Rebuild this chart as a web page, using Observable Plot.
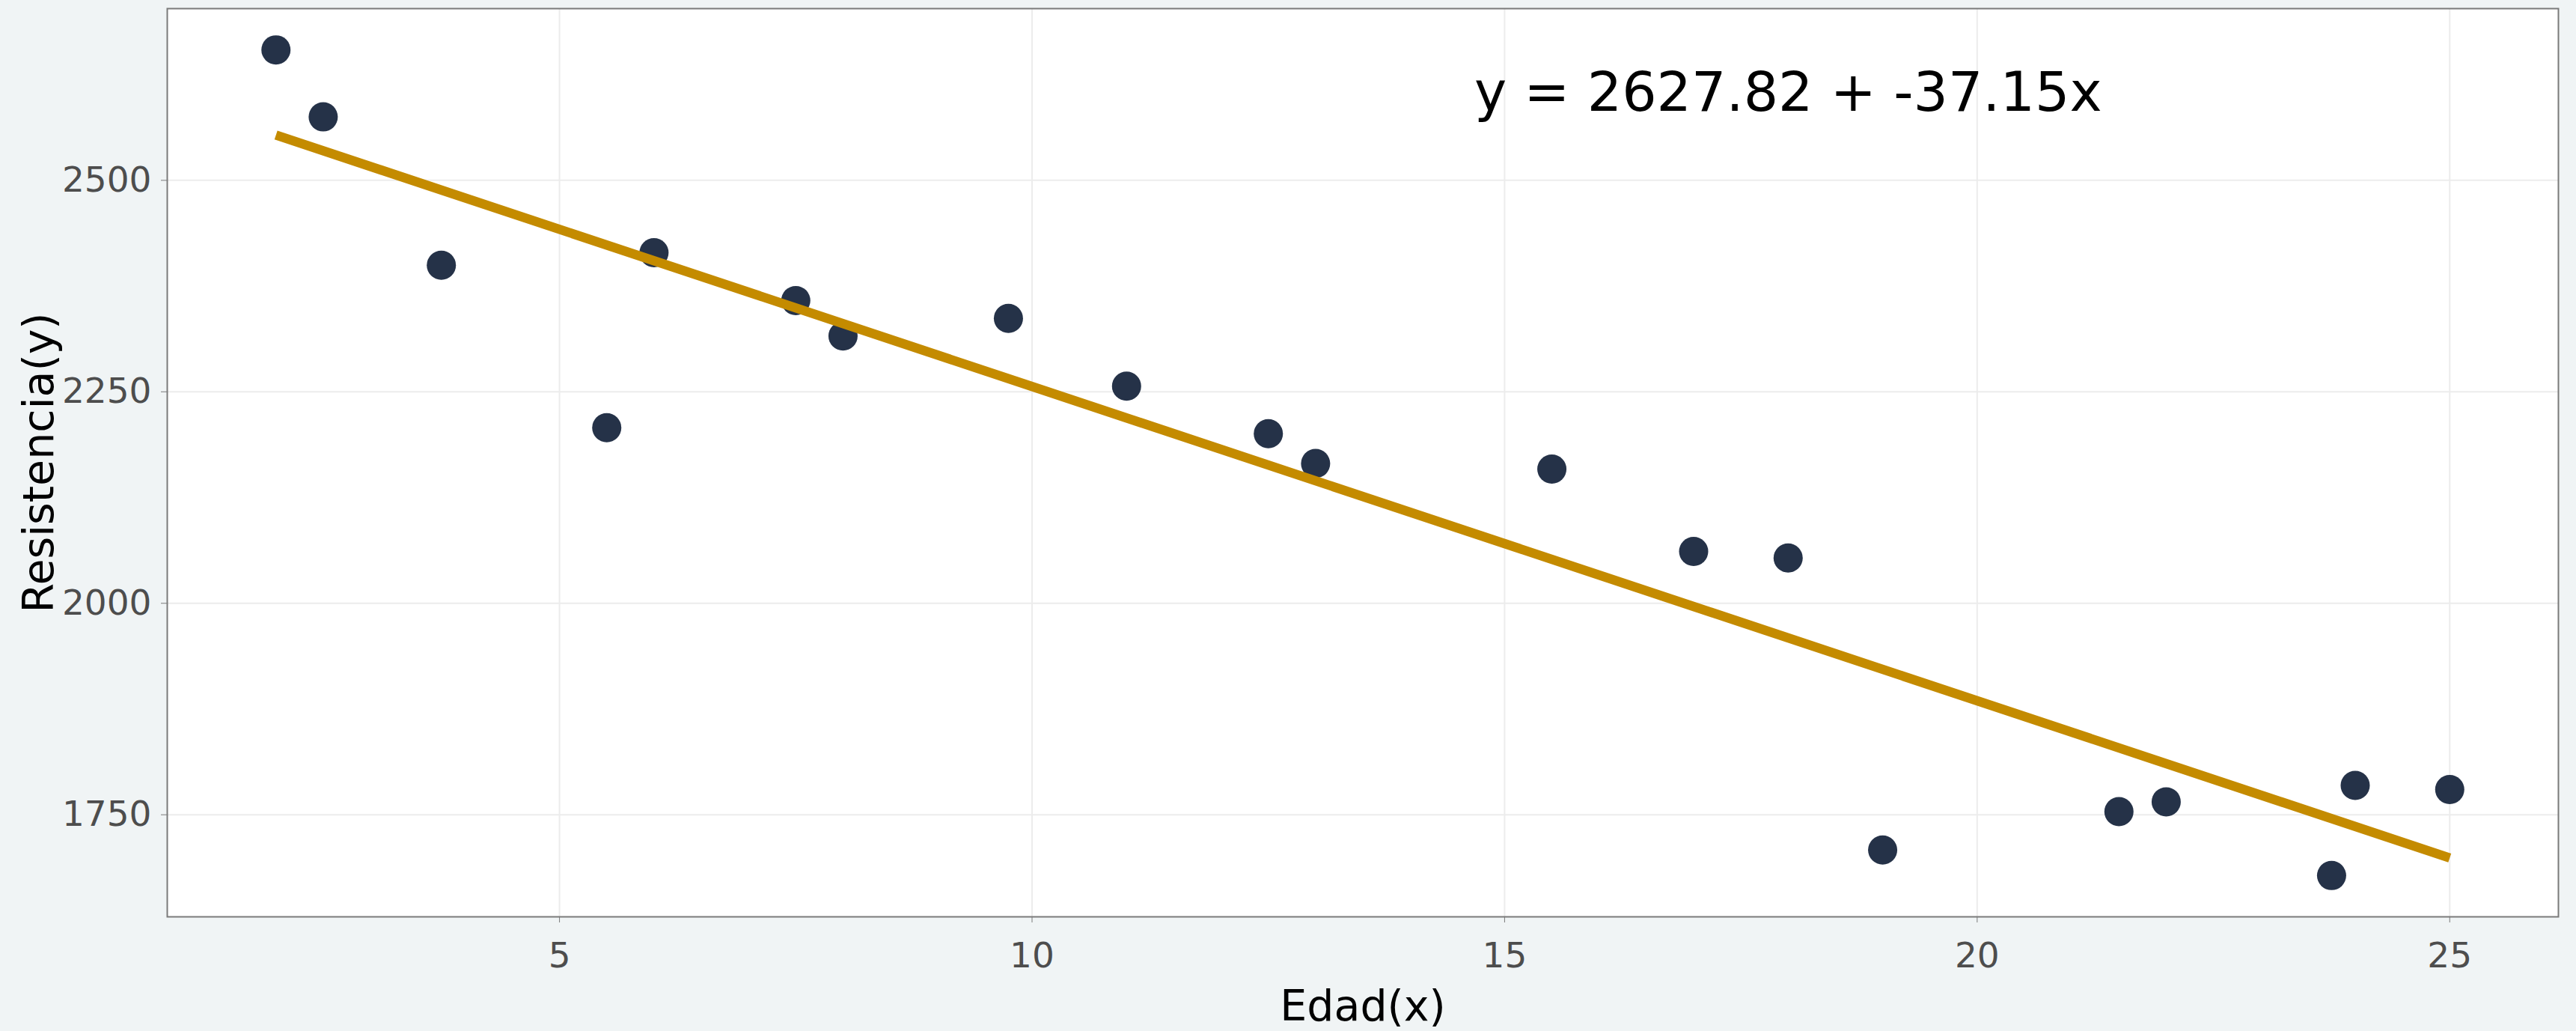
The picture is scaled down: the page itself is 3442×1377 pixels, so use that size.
<!DOCTYPE html>
<html>
<head>
<meta charset="utf-8">
<script src="https://cdn.jsdelivr.net/npm/d3@7"></script>
<script src="https://cdn.jsdelivr.net/npm/@observablehq/plot@0.6"></script>
<style>
  html, body { margin: 0; padding: 0; background: #f0f4f5; }
  #chart { width: 3442px; height: 1377px; }
</style>
</head>
<body>
<div id="chart"></div>
<script>
// Edad (x) and Resistencia (y)
const edad = [15.50, 23.75, 8.00, 17.00, 5.50, 19.00, 24.00, 2.50, 7.50, 11.00,
              13.00, 3.75, 25.00, 9.75, 22.00, 18.00, 6.00, 12.50, 2.00, 21.50];
const resistencia = [2158.70, 1678.15, 2316.00, 2061.30, 2207.50, 1708.30, 1784.70, 2575.00, 2357.90, 2256.70,
                     2165.20, 2399.55, 1779.80, 2336.75, 1765.30, 2053.50, 2414.40, 2200.50, 2654.20, 1753.70];
const xTicks = [5, 10, 15, 20, 25];
const yTicks = [1750, 2000, 2250, 2500];
const equationText = ["y = 2627.82 + -37.15x"];
const equationPos = [{x: 18.0, y: 2603}];
const xLabel = ["Edad(x)"];
const yLabel = ["Resistencia(y)"];

const data = edad.map((x, i) => ({x, y: resistencia[i]}));
const xExt = d3.extent(edad), yExt = d3.extent(resistencia);
const xPad = (xExt[1] - xExt[0]) * 0.05, yPad = (yExt[1] - yExt[0]) * 0.05;

const font = "DejaVu Sans, Verdana, sans-serif";

const chart = Plot.plot({
  width: 3442,
  height: 1377,
  marginLeft: 223,
  marginRight: 24,
  marginTop: 11,
  marginBottom: 153,
  style: {background: "#f0f4f5", fontFamily: font, overflow: "visible"},
  x: {domain: [xExt[0] - xPad, xExt[1] + xPad]},
  y: {domain: [yExt[0] - yPad, yExt[1] + yPad]},
  marks: [
    Plot.frame({fill: "white", stroke: "none"}),
    Plot.gridX(xTicks, {stroke: "#ececec", strokeOpacity: 1, strokeWidth: 2}),
    Plot.gridY(yTicks, {stroke: "#ececec", strokeOpacity: 1, strokeWidth: 2}),
    Plot.frame({stroke: "#7a7a7a", strokeWidth: 2}),
    Plot.dot(data, {x: "x", y: "y", r: 19.5, fill: "#253248", stroke: "none"}),
    Plot.linearRegressionY(data, {x: "x", y: "y", ci: 0, stroke: "#c48b00", strokeWidth: 12.5, strokeLinecap: "butt"}),
    Plot.axisX({ticks: xTicks, tickSize: 8, tickPadding: 26, fontSize: 47, label: null, color: "#4d4d4d", stroke: "#7a7a7a", tickFormat: d3.format("d")}),
    Plot.axisY({ticks: yTicks, tickSize: 8, tickPadding: 13, fontSize: 47, label: null, color: "#4d4d4d", stroke: "#7a7a7a", tickFormat: d3.format("d")}),
    Plot.text(equationPos, {x: "x", y: "y", text: () => equationText[0], fontSize: 73, fill: "black", textAnchor: "middle", lineAnchor: "middle"}),
    Plot.text(xLabel, {frameAnchor: "bottom", dy: 120, text: d => d, fontSize: 57, fill: "black", textAnchor: "middle", lineAnchor: "middle"}),
    Plot.text(yLabel, {frameAnchor: "left", dx: -171, rotate: -90, text: d => d, fontSize: 57, fill: "black", textAnchor: "middle", lineAnchor: "middle"})
  ]
});
document.getElementById("chart").appendChild(chart);
</script>
</body>
</html>
